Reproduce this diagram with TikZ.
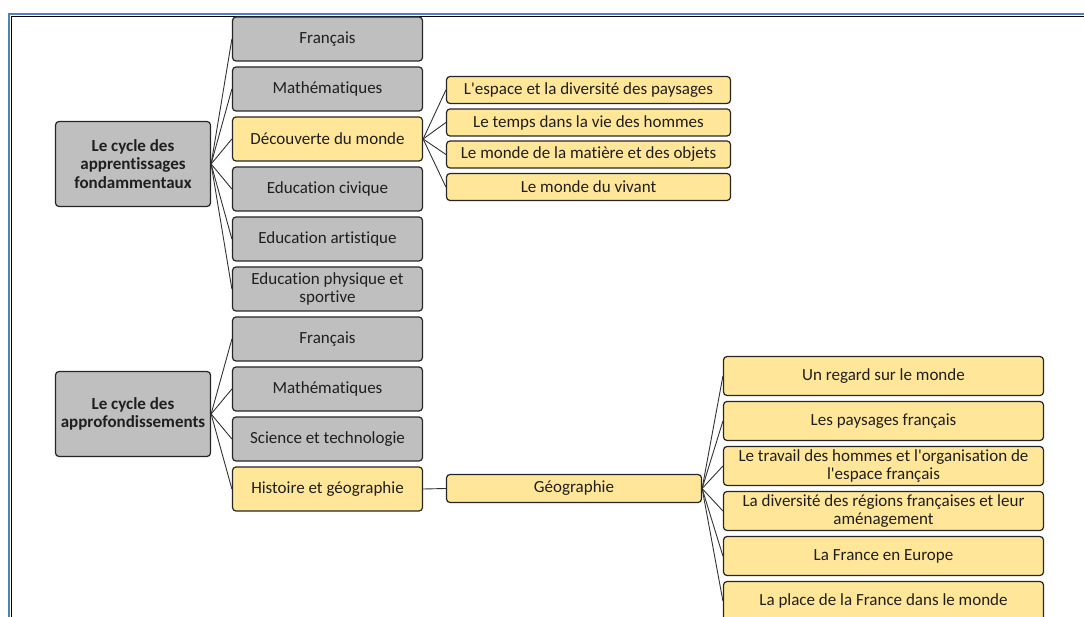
\documentclass[tikz,border=0pt]{standalone}
\usepackage{fontspec}
\setmainfont{Carlito}[Ligatures={TeX,NoCommon}]
\definecolor{cadreBleu}{RGB}{79,129,189}
\definecolor{jaune}{RGB}{255,230,153}
\definecolor{gris}{RGB}{191,191,191}

\begin{document}
\begin{tikzpicture}[x=1pt,y=-1pt,
  boite/.style={draw=black!85, line width=1.2pt, rounded corners=3.5pt, inner sep=0pt,
    align=center, text=black!88, font=\fontsize{17}{18.5}\selectfont},
  matiere/.style={boite, fill=gris, minimum width=190pt, minimum height=44pt},
  matiereJ/.style={boite, fill=jaune, minimum width=190pt, minimum height=44pt},
  cycle/.style={boite, fill=gris, minimum width=155pt, minimum height=85pt,
    font=\fontsize{17}{18.5}\selectfont\bfseries},
  theme/.style={boite, fill=jaune, minimum width=284pt, minimum height=27pt},
  geo/.style={boite, fill=jaune, minimum width=320pt, minimum height=39pt},
  lien/.style={draw=black!80, line width=0.9pt}]

\clip (0,0) rectangle (1084,617); % Page size

\draw[cadreBleu, line width=2.6pt] (9,617) -- (9,14) -- (1084,14); % Frame
\draw[black, line width=0.7pt] (10.9,617) -- (10.9,15.9) -- (1084,15.9);

% Cycle 2
\node [cycle] (cycleA) at (133,164) {Le cycle des\\apprentissages\\fondammentaux};

\node [matiere]  (fraA)   at (327.5,39)  {Français};
\node [matiere]  (mathA)  at (327.5,89)  {Mathématiques};
\node [matiereJ] (decouv) at (327.5,139) {Découverte du monde};
\node [matiere]  (civ)    at (327.5,189) {Education civique};
\node [matiere]  (art)    at (327.5,239) {Education artistique};
\node [matiere]  (eps)    at (327.5,289) {Education physique et\\sportive};

\node [theme] (espace)  at (588.5,90)    {L\textquotesingle espace et la diversité des paysages};
\node [theme] (temps)   at (588.5,122.5) {Le temps dans la vie des hommes};
\node [theme] (objets)  at (588.5,154.5) {Le monde de la matière et des objets};
\node [theme] (vivant)  at (588.5,187)   {Le monde du vivant};

% Cycle 3
\node [cycle] (cycleB) at (133,414) {Le cycle des\\approfondissements};

\node [matiere]  (fraB)  at (327.5,339) {Français};
\node [matiere]  (mathB) at (327.5,389) {Mathématiques};
\node [matiere]  (sci)   at (327.5,439) {Science et technologie};
\node [matiereJ] (hist)  at (327.5,489) {Histoire et géographie};

\node [boite, fill=jaune, minimum width=255pt, minimum height=28pt] (geog) at (574,488.5) {Géographie};

\node [geo] (regard)  at (883.5,376) {Un regard sur le monde};
\node [geo] (paysage) at (883.5,421) {Les paysages français};
\node [geo] (travail) at (883.5,466) {Le travail des hommes et l\textquotesingle organisation de\\l\textquotesingle espace français};
\node [geo] (regions) at (883.5,511) {La diversité des régions françaises et leur\\aménagement};
\node [geo] (europe)  at (883.5,556) {La France en Europe};
\node [geo] (monde)   at (883.5,601) {La place de la France dans le monde};

% Links
\foreach \enfant in {fraA,mathA,decouv,civ,art,eps}
    \draw[lien] (cycleA.east) -- (\enfant.west);
\foreach \enfant in {espace,temps,objets,vivant}
    \draw[lien] (decouv.east) -- (\enfant.west);
\foreach \enfant in {fraB,mathB,sci,hist}
    \draw[lien] (cycleB.east) -- (\enfant.west);
\draw[lien] (hist.east) -- (geog.west);
\foreach \enfant in {regard,paysage,travail,regions,europe,monde}
    \draw[lien] (geog.east) -- (\enfant.west);

\end{tikzpicture}
\end{document}
